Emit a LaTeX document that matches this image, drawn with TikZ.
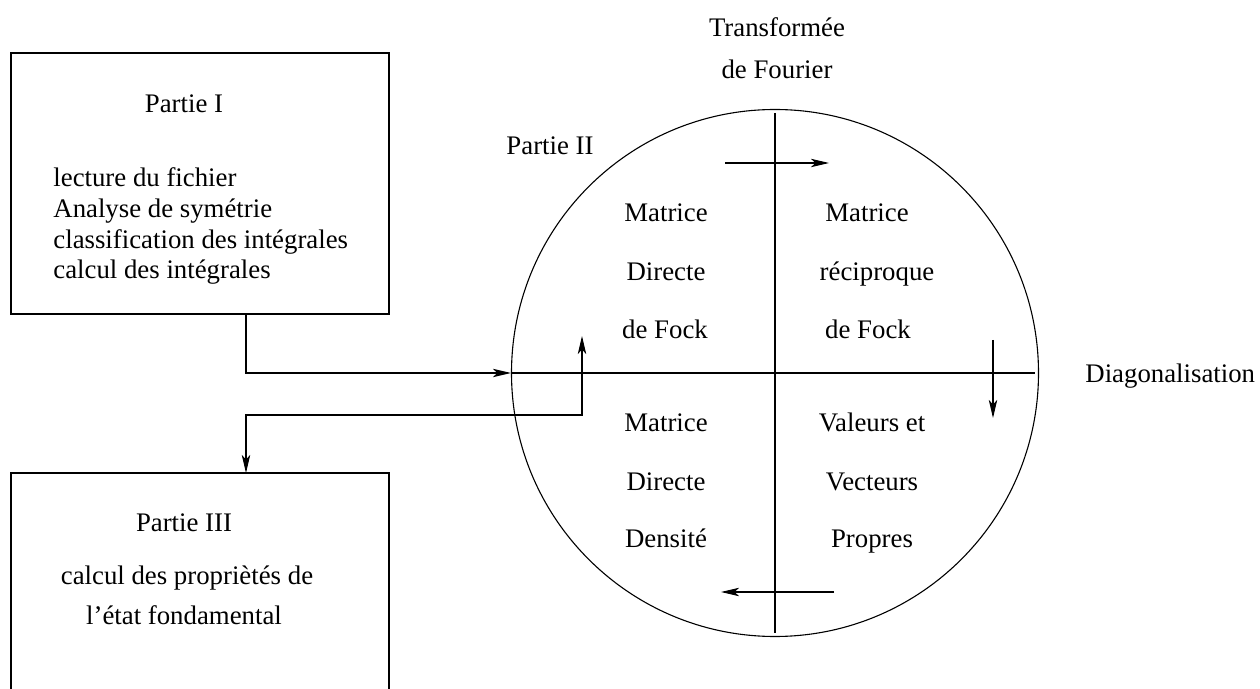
\documentclass[tikz,border=0pt]{standalone}
\usepackage{fontspec}
\setmainfont{Liberation Serif}
\usetikzlibrary{arrows.meta}
\tikzset{
  ln/.style={line width=0.55pt},
  tip/.tip={Stealth[length=9pt,width=4.2pt,inset=2.2pt]},
  arr/.style={ln,-tip},
  both/.style={ln,tip-tip},
  lbl/.style={inner sep=0pt,font=\fontsize{13.4}{16}\selectfont,anchor=base},
  lft/.style={lbl,anchor=base west},
  boxst/.style={ln,draw,rectangle,inner sep=0pt},
}
\begin{document}
\begin{tikzpicture}[x=0.5pt,y=-0.5pt]
\useasboundingbox (0,0) rectangle (1260,689);
\clip (0,0) rectangle (1260,689);
% Partie I box
\node[boxst,minimum width=189pt,minimum height=130.5pt] (boxI) at (200,183.5) {};
\node[lbl] (tI) at (184,113) {Partie I};
\node[lft] (l1) at (53,187) {lecture du fichier};
\node[lft] (l2) at (53,218) {Analyse de symétrie};
\node[lft] (l3) at (53,249) {classification des intégrales};
\node[lft] (l4) at (53,279) {calcul des intégrales};
% Partie III box (cut by page bottom)
\node[boxst,minimum width=189pt,minimum height=130pt] (boxIII) at (200,603) {};
\node[lbl] (tIII) at (184,532) {Partie III};
\node[lbl] (m1) at (187,585) {calcul des propriètés de};
\node[lbl] (m2) at (184,625) {l’état fondamental};
% circle
\node[ln,draw,circle,minimum size=263.5pt,inner sep=0pt] (circ) at (775,373) {};
\coordinate (vt) at (775,113);
\coordinate (vb) at (775,633);
\coordinate (hl) at (512,373);
\coordinate (hr) at (1035,373);
\draw[ln] (vt) -- (vb);
\draw[ln] (hl) -- (hr);
% labels outside circle
\node[lbl] (tf1) at (777,37) {Transformée};
\node[lbl] (tf2) at (777,79) {de Fourier};
\node[lbl] (p2) at (550,155) {Partie II};
\node[lft] (diag) at (1085,383) {Diagonalisation};
% quadrant texts
\node[lbl] (a1) at (666,222) {Matrice};
\node[lbl] (a2) at (666,281) {Directe};
\node[lbl] (a3) at (665,339) {de Fock};
\node[lbl] (b1) at (867,222) {Matrice};
\node[lbl] (b2) at (877,281) {réciproque};
\node[lbl] (b3) at (868,339) {de Fock};
\node[lbl] (c1) at (666,432) {Matrice};
\node[lbl] (c2) at (666,491) {Directe};
\node[lbl] (c3) at (666,548) {Densité};
\node[lbl] (d1) at (872,432) {Valeurs et};
\node[lbl] (d2) at (872,491) {Vecteurs};
\node[lbl] (d3) at (872,548) {Propres};
% inner arrows
\coordinate (ts) at (725,163);
\coordinate (te) at (829,163);
\draw[arr] (ts) -- (te);
\coordinate (rs) at (993,340);
\coordinate (re) at (993,418);
\draw[arr] (rs) -- (re);
\coordinate (bs) at (834,592);
\coordinate (be) at (721,592);
\draw[arr] (bs) -- (be);
% connectors
\coordinate (p1) at (246,314);
\draw[arr] (p1) |- (circ.west);
\coordinate (u) at (582,336);
\coordinate (k) at (246,415);
\coordinate (dn) at (246,473);
\draw[both] (u) |- (k) -- (dn);
\end{tikzpicture}
\end{document}
